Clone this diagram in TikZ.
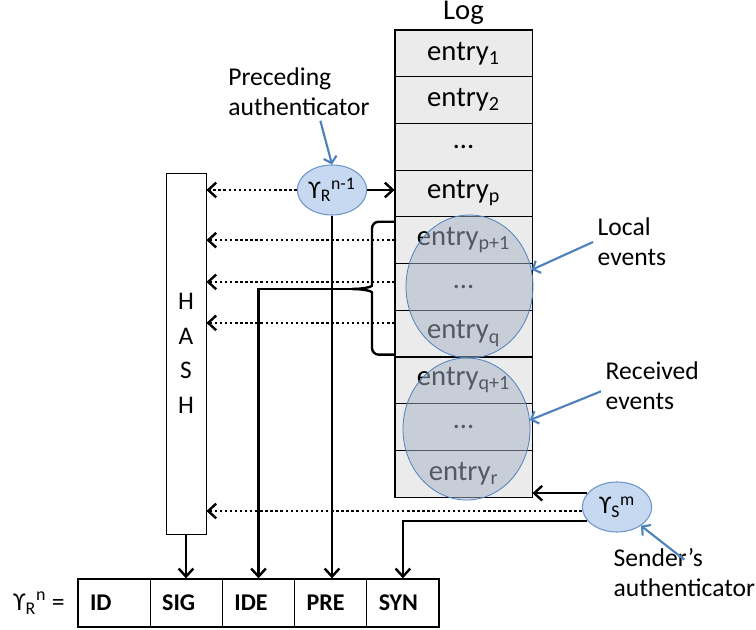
\documentclass[tikz,border=0pt]{standalone}
\usepackage{amsmath}
\usepackage{fontspec}
\setmainfont{Carlito}
\usetikzlibrary{arrows.meta,positioning,shapes.geometric}

\definecolor{logfill}{RGB}{235,235,235}
\definecolor{eventfill}{RGB}{165,178,198}
\definecolor{authfill}{RGB}{198,217,241}
\definecolor{authline}{RGB}{110,150,200}
\definecolor{noteblue}{RGB}{79,129,189}

\tikzset{
  logrow/.style={draw, line width=0.6pt, fill=logfill, minimum width=102.75pt,
    minimum height=35pt, inner sep=0pt, font=\fontsize{21.5}{25}\selectfont},
  events/.style={ellipse, draw=noteblue, line width=0.6pt, fill=eventfill,
    fill opacity=0.5, inner sep=0pt},
  auth/.style={ellipse, draw=authline, line width=0.8pt, fill=authfill,
    minimum width=52pt, minimum height=37.5pt, inner sep=0pt,
    font=\fontsize{19}{22}\selectfont},
  field/.style={draw, line width=1pt, minimum height=36pt, text width=36.15pt,
    inner xsep=9pt, align=left, font=\fontsize{18}{22}\selectfont\bfseries},
  notetext/.style={align=left, font=\fontsize{19.2}{22.5}\selectfont},
  arr/.style={line width=1.8pt, -{Straight Barb[length=6pt,width=11pt]}},
  dotarr/.style={arr, dotted},
  brace/.style={line width=1.8pt, rounded corners=5pt},
  note/.style={noteblue, line width=1.6pt, -{Straight Barb[length=4.5pt,width=10pt]}}
}

\begin{document}
\begin{tikzpicture}[x=0.75pt, y=-0.75pt]
    \useasboundingbox (0,0) rectangle (756,630);

    % the log
    \foreach \txt [count=\i] in {{entry\textsubscript{1}}, {entry\textsubscript{2}}, {\ldots},
        {entry\textsubscript{p}}, {entry\textsubscript{p+1}}, {\ldots}, {entry\textsubscript{q}},
        {entry\textsubscript{q+1}}, {\ldots}, {entry\textsubscript{r}}}
      \node[logrow] (e\i) at (463.5, {30+46.7*(\i-0.5)}) {\txt};
    \draw[line width=1.2pt] (e1.north west) rectangle (e10.south east);
    \node[font=\fontsize{21.5}{25}\selectfont, above=0pt of e1] (logtitle) {Log};
    \node[events, minimum width=95.25pt, minimum height=107.25pt] (localev) at (469.5,286.5) {};
    \node[events, minimum width=95.25pt, minimum height=106.5pt] (recvev) at (466.5,429) {};

    % hash and authenticators
    \node[draw, line width=0.6pt, minimum width=30pt, minimum height=270.75pt,
      align=center, font=\fontsize{19}{26}\selectfont] (hash) at (186,353.5) {H\\A\\S\\H};
    \node[auth] (gRprev) at (332,190) {\makebox[0pt]{ϒ\textsubscript{R}\textsuperscript{n-1}}};
    \node[auth] (gS) at (617,507) {\makebox[0pt]{ϒ\textsubscript{S}\textsuperscript{m}}};

    % new authenticator
    \foreach \txt/\nm [count=\i] in {ID/id, SIG/sig, IDE/ide, PRE/pre, SYN/syn}
      \node[field] (\nm) at ({78+72.2*(\i-0.5)}, 603) {\txt};
    \node[notetext, left=6pt of id] (gRn) {ϒ\textsubscript{R}\textsuperscript{n} =};

    % notes
    \node[notetext] (preceding) at (299,92) {Preceding\\authenticator};
    \node[notetext, anchor=west] (local) at (593,242) {Local\\events};
    \node[notetext, anchor=west] (received) at (601,386) {Received\\events};
    \node[notetext, anchor=west] (sender) at (609,572.5) {Sender’s\\authenticator};

    % connectors
    \draw[dotarr] (gRprev.west) -- (gRprev.west -| hash.east);
    \draw[arr] (gRprev.east) -- (gRprev.east -| e4.west);
    \foreach \r/\s in {5/0pt, 6/3.7pt, 7/8pt}
      \draw[dotarr] ([yshift=\s]e\r.west) -- ([yshift=\s]e\r.west -| hash.east);
    \coordinate (bracetip) at (352,289);
    \draw[brace] ([yshift=-4pt]e5.north west) -| (372,279)
      .. controls (372,287) and (362,289) .. (bracetip);
    \draw[brace] ([yshift=2pt]e7.south west) -| (372,299)
      .. controls (372,291) and (362,289) .. (bracetip);
    \draw[arr] (bracetip) -| (ide.north);
    \draw[arr] (gRprev.south) -- (gRprev.south |- pre.north);
    \draw[arr] (hash.south) -- (hash.south |- sig.north);
    \draw[arr] (gS.155) -- (gS.155 -| e10.east);
    \draw[dotarr] ([yshift=-3pt]gS.west) -- ([yshift=-3pt]gS.west -| hash.east);
    \draw[arr] (gS.205) -| (syn.north);

    \draw[note] ([xshift=16pt]preceding.south) -- (gRprev.north);
    \draw[note] (local.west) -- (localev.15);
    \draw[note] ([yshift=-4pt]received.west) -- (recvev.8);
    \draw[note] ([yshift=-12pt]sender.north) -- (gS.322);
\end{tikzpicture}
\end{document}
